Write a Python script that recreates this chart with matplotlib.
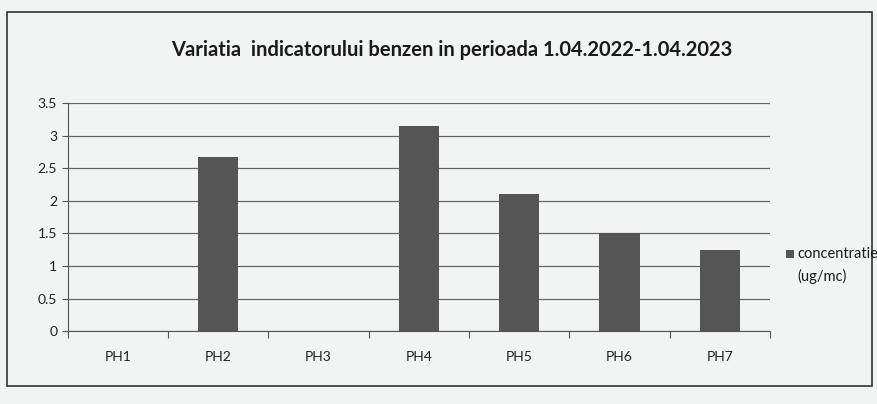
import matplotlib.pyplot as plt
from matplotlib.patches import Rectangle
import numpy as np

# data
stations = ['PH1', 'PH2', 'PH3', 'PH4', 'PH5', 'PH6', 'PH7']
benzen = [0, 2.67, 0, 3.15, 2.1, 1.5, 1.25]
yticks = [0, 0.5, 1, 1.5, 2, 2.5, 3, 3.5]
title = 'Variatia  indicatorului benzen in perioada 1.04.2022-1.04.2023'
series_name = ['concentratie', '(ug/mc)']

plt.rcParams['font.family'] = ['Lato', 'DejaVu Sans']

fig = plt.figure(figsize=(8.78, 4.04), dpi=100, facecolor='#f2f3f3')
ax = fig.add_axes([0.077, 0.18, 0.80, 0.565])
ax.set_facecolor('#f2f3f3')

x = np.arange(len(stations))
ax.bar(x, benzen, width=0.4, color='#555555', linewidth=0, zorder=3)

ax.set_xlim(-0.5, len(stations) - 0.5)
ax.set_ylim(0, 3.5)
ax.set_yticks(yticks)
ax.set_yticklabels([('%g' % v) for v in yticks], fontsize=10, color='#222222')
ax.yaxis.grid(True, color='#666666', linewidth=0.9, zorder=0)

# category labels between the boundary tick marks, like Excel
ax.set_xticks(np.arange(-0.5, len(stations), 1.0))
ax.set_xticklabels([])
ax.set_xticks(x, minor=True)
ax.set_xticklabels(stations, minor=True, fontsize=10, color='#222222')
ax.tick_params(axis='x', which='minor', length=0, pad=14)
ax.tick_params(axis='x', which='major', length=5, color='#555555')
ax.tick_params(axis='y', length=4, color='#555555')

for s in ['top', 'right']:
    ax.spines[s].set_visible(False)
for s in ['left', 'bottom']:
    ax.spines[s].set_color('#555555')

fig.text(0.515, 0.875, title, ha='center', va='center', fontsize=14.5,
         fontweight='bold', color='#1a1a1a')

# legend drawn by hand: square beside the first line, second line under the text
fig.patches.append(Rectangle((0.895, 0.362), 0.009, 0.02, transform=fig.transFigure,
                             facecolor='#555555', edgecolor='none'))
fig.text(0.908, 0.372, series_name[0], ha='left', va='center', fontsize=10.5,
         color='#1a1a1a')
fig.text(0.908, 0.315, series_name[1], ha='left', va='center', fontsize=10.5,
         color='#1a1a1a')

# outer chart border
fig.patches.append(Rectangle((0.008, 0.045), 0.985, 0.925, transform=fig.transFigure,
                             fill=False, edgecolor='#333333', linewidth=1.2))

fig.savefig('out.png', dpi=100, facecolor=fig.get_facecolor())
